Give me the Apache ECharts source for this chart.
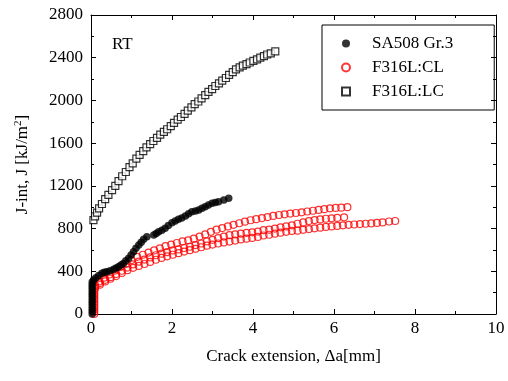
<!DOCTYPE html>
<html>
<head>
<meta charset="utf-8">
<script src="https://cdn.jsdelivr.net/npm/echarts@6/dist/echarts.min.js"></script>
<style>html,body{margin:0;padding:0;background:#fff}#c{width:508px;height:381px}</style>
</head>
<body>
<div id="c"></div>
<script>
// ---- data (Δa [mm], J [kJ/m²]) ----
const seriesNames = ['SA508 Gr.3', 'F316L:CL', 'F316L:LC'];
const xTicks = [0, 2, 4, 6, 8, 10];
const yTicks = [0, 400, 800, 1200, 1600, 2000, 2400, 2800];

const sa508_a = [0.03,0.03,0.03,0.03,0.03,0.03,0.03,0.03,0.03,0.03,0.03,0.03,0.03,
  0.064,0.12,0.19,0.27,0.33,0.39,0.47,0.56,0.62,0.68,0.74,0.8,0.86,0.93,0.99,1.05,1.11,1.18,1.24,1.3,1.38,
  1.55,1.61,1.67,1.75,1.83,1.91,2.0,2.08,2.16,2.24,2.33,2.41,2.49,2.58,2.66,2.74,2.82,2.9,2.99,3.07,3.15,3.28,3.4];
const sa508_J = [0,25,50,75,100,125,150,175,200,225,250,275,300,
  318,340,360,381,392,396,405,418,430,443,458,474,498,521,552,583,615,646,672,699,724,
  740,755,771,785,802,828,855,870,887,900,918,938,958,965,974,990,1005,1020,1036,1045,1052,1068,1083];

const cl_stack_a = [0.08,0.08,0.08,0.08,0.08,0.08,0.08,0.08,0.08,0.08,0.08,0.08];
const cl_stack_J = [0,20,40,60,80,100,120,140,160,180,200,220];

const clA_a = [0.1,0.2,0.32,0.45,0.58,0.72,0.86,1.0,1.14,1.28,1.42,1.56,1.7,1.84,1.98,2.12,2.26,2.4,2.54,2.68,2.82,2.96,3.1,3.24,3.38,3.52,3.66,3.8,3.94,4.08,4.22,4.36,4.5,4.64,4.78,4.92,5.06,5.2,5.34,5.48,5.62,5.76,5.9,6.04,6.18,6.33];
const clA_J = [270,305,340,370,405,440,470,505,535,555,575,595,615,635,650,665,680,690,705,725,745,770,790,805,820,835,850,865,878,888,898,908,918,927,933,940,946,952,960,967,975,982,990,993,996,1000];

const clB_a = [0.1,0.22,0.35,0.48,0.62,0.76,0.9,1.04,1.18,1.32,1.46,1.6,1.74,1.88,2.02,2.16,2.3,2.44,2.58,2.72,2.86,3.0,3.14,3.28,3.42,3.56,3.7,3.84,3.98,4.12,4.26,4.4,4.54,4.68,4.82,4.96,5.1,5.24,5.38,5.52,5.66,5.8,5.94,6.08,6.25];
const clB_J = [255,290,320,345,375,405,435,465,490,510,530,550,565,580,595,605,618,630,645,660,680,695,710,725,738,745,752,760,765,772,785,790,800,812,820,830,845,858,870,880,886,892,896,900,905];

const clC_a = [0.1,0.22,0.35,0.48,0.62,0.76,0.9,1.04,1.18,1.32,1.46,1.6,1.74,1.88,2.02,2.16,2.3,2.44,2.58,2.72,2.86,3.0,3.14,3.28,3.42,3.56,3.7,3.84,3.98,4.12,4.26,4.4,4.54,4.68,4.82,4.96,5.1,5.24,5.38,5.52,5.66,5.8,5.94,6.08,6.22,6.36,6.5,6.64,6.78,6.92,7.06,7.2,7.36,7.51];
const clC_J = [240,275,305,330,355,385,410,432,450,468,488,508,525,540,555,570,585,598,610,625,640,650,660,670,678,688,698,705,712,722,735,742,752,762,770,778,780,788,795,802,808,815,820,825,830,835,838,842,845,848,853,858,866,871];

const lc_a = [0.06,0.1,0.15,0.2,0.27,0.35,0.43,0.52,0.6,0.68,0.77,0.86,0.95,1.03,1.12,1.2,1.29,1.37,1.46,1.54,1.63,1.71,1.8,1.88,1.97,2.05,2.14,2.22,2.31,2.39,2.48,2.56,2.65,2.73,2.82,2.9,2.99,3.07,3.16,3.24,3.33,3.41,3.5,3.58,3.67,3.75,3.84,3.92,4.01,4.1,4.18,4.27,4.35,4.44,4.55];
const lc_J = [880,915,950,990,1030,1075,1115,1160,1200,1245,1290,1330,1375,1410,1455,1490,1525,1560,1590,1620,1650,1680,1705,1730,1760,1790,1820,1845,1875,1905,1935,1965,1990,2020,2050,2080,2105,2135,2160,2185,2210,2240,2265,2290,2310,2325,2340,2355,2370,2385,2400,2415,2430,2440,2460];

function pairs(a, J) { return a.map((v, i) => [v, J[i]]); }
const sa508Data = pairs(sa508_a, sa508_J);
const clData = pairs(cl_stack_a, cl_stack_J).concat(pairs(clA_a, clA_J), pairs(clB_a, clB_J), pairs(clC_a, clC_J));
const lcData = pairs(lc_a, lc_J);

const FONT = 'Liberation Serif';
const chart = echarts.init(document.getElementById('c'), null, {renderer: 'canvas'});

const tickFmt = v => '{n|' + v + '}';
const tickRich = {n: {fontFamily: FONT, fontSize: 17, color: '#000'}};

function axisBase(pos, extra) {
  return Object.assign({
    type: 'value', position: pos,
    axisLine: {show: true, onZero: false, lineStyle: {color: '#000', width: 1}},
    axisTick: {show: true, inside: true, length: 5, lineStyle: {color: '#000'}},
    minorTick: {show: true, splitNumber: 2, length: 3, lineStyle: {color: '#000'}},
    splitLine: {show: false}
  }, extra);
}

chart.setOption({
  animation: false,
  backgroundColor: '#fff',
  textStyle: {fontFamily: FONT, color: '#000'},
  grid: {left: 91, right: 12, top: 15, bottom: 67, containLabel: false},
  title: {text: 'RT', left: 107, top: 31, textStyle: {fontFamily: FONT, fontSize: 17, fontWeight: 'normal', color: '#000'}},
  legend: {
    data: seriesNames,
    orient: 'vertical',
    left: 322, top: 25,
    padding: [10, 41, 10, 19],
    itemGap: 7,
    itemWidth: 8, itemHeight: 8,
    borderColor: '#000', borderWidth: 1,
    textStyle: {fontFamily: FONT, fontSize: 17, color: '#000', padding: [0, 0, 0, 17]}
  },
  xAxis: [
    axisBase('bottom', {
      min: xTicks[0], max: xTicks[xTicks.length - 1], interval: 2,
      name: 'Crack extension, \u0394a[mm]', nameLocation: 'middle', nameGap: 34,
      nameTextStyle: {fontFamily: FONT, fontSize: 17, color: '#000'},
      axisLabel: {fontFamily: FONT, fontSize: 17, color: '#000', margin: 6, formatter: tickFmt, rich: tickRich}
    }),
    axisBase('top', {
      min: xTicks[0], max: xTicks[xTicks.length - 1], interval: 2,
      axisLabel: {show: false}
    })
  ],
  yAxis: [
    axisBase('left', {
      min: yTicks[0], max: yTicks[yTicks.length - 1], interval: 400,
      name: '{t|J-int, J [kJ/m}{s|2}{t|]}', nameLocation: 'middle', nameGap: 58, nameRotate: 90,
      nameTextStyle: {fontFamily: FONT, rich: {
        t: {fontFamily: FONT, fontSize: 17, color: '#000'},
        s: {fontFamily: FONT, fontSize: 11, color: '#000', verticalAlign: 'top', padding: [0, 0, 9, 0]}
      }},
      axisLabel: {fontFamily: FONT, fontSize: 17, color: '#000', margin: 8, formatter: tickFmt, rich: tickRich}
    }),
    axisBase('right', {
      min: yTicks[0], max: yTicks[yTicks.length - 1], interval: 400,
      axisLabel: {show: false}
    })
  ],
  series: [
    {
      name: seriesNames[2], type: 'scatter', data: lcData, symbol: 'rect', symbolSize: 7, z: 2,
      itemStyle: {color: '#fff', borderColor: '#000', borderWidth: 1.2}
    },
    {
      name: seriesNames[1], type: 'scatter', data: clData, symbol: 'circle', symbolSize: 7, z: 3,
      itemStyle: {color: 'rgba(255,255,255,0)', borderColor: '#ff0000', borderWidth: 1.2}
    },
    {
      name: seriesNames[0], type: 'scatter', data: sa508Data, symbol: 'circle', symbolSize: 7.5, z: 4,
      itemStyle: {color: '#000', borderColor: '#000', borderWidth: 0}
    }
  ]
});
</script>
</body>
</html>
